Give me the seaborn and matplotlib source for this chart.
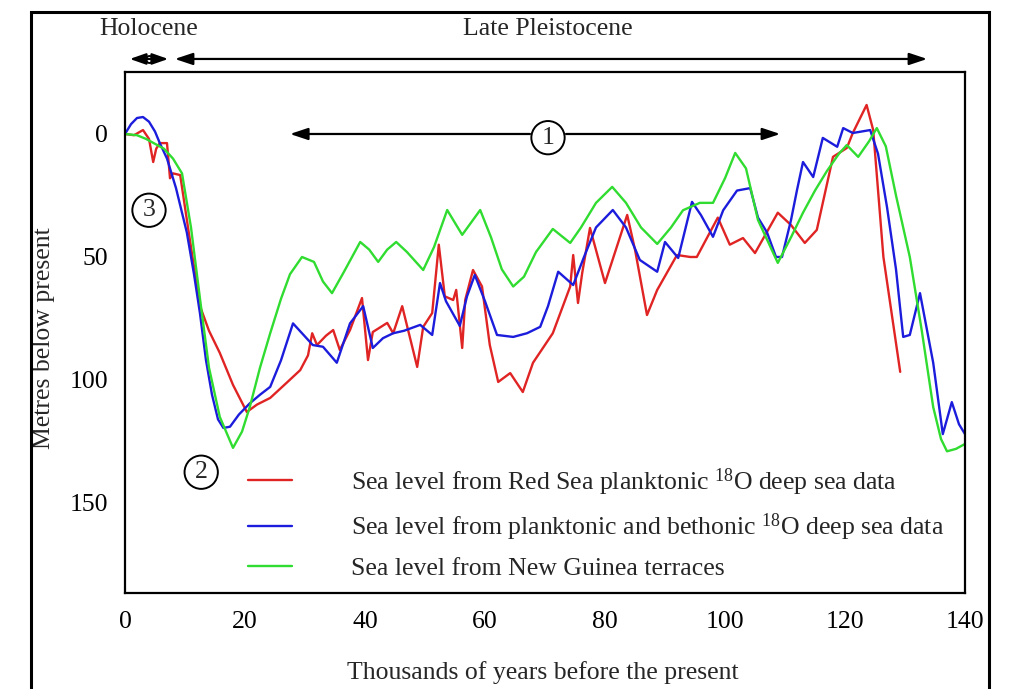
import numpy as np
import pandas as pd
import seaborn as sns
import matplotlib
matplotlib.use("Agg")
import matplotlib.pyplot as plt
from matplotlib.patches import Rectangle

# ---------------- data ----------------
red_x = [0, 1.5, 3, 4, 4.7, 5.2, 5.8, 7, 7.5, 8, 9.2, 10.5, 12.5, 14, 15.8, 18, 20.3, 22, 24.2, 27,
         29.2, 30.5, 31.2, 32, 33.5, 34.7, 35.8, 37.5, 39.5, 40.5, 41.3, 43.7, 44.7, 46.2, 48.7, 49.7,
         51.2, 52.3, 53.3, 54.7, 55.2, 56.2, 56.7, 58, 59.5, 60.8, 62.2, 64.2, 66.3, 68, 71.3, 74.2,
         74.7, 75.5, 76.2, 77.5, 80, 83.7, 85, 87, 88.7, 92, 94.2, 95.3, 98.8, 100.8, 103, 105, 108.8,
         111, 113.3, 115.3, 118, 120.3, 121.3, 123.6, 124.7, 126.4, 129.2]
red_y = [0, 0.5, -1.6, 2, 11.4, 6, 3.7, 3.7, 18, 16, 16.7, 38, 70, 80, 89, 102, 113, 110, 107.3, 101,
         96, 90, 81, 85.8, 82, 79.7, 87.8, 79.7, 66.7, 91.9, 80.5, 76.8, 81, 70, 94.7, 78.4,
         72.8, 45, 66, 67.5, 63.4, 87, 67.5, 55.3, 62, 85.8, 100.8, 97.2, 104.9, 93, 81, 62,
         49.2, 68.7, 56.5, 38.2, 60.6, 32.9, 47, 73.6, 63.4, 49.2, 50, 50, 34, 45, 42.3, 48.4, 32,
         37, 44.3, 39, 9.3, 5.7, -0.4, -11.8, -1.6, 50, 96.7]

blue_x = [0, 1, 2, 3, 4, 5, 5.8, 7, 8.5, 10.3, 11.5, 12.5, 13.5, 14.5, 15.5, 16.4, 17.5, 19, 20.8,
          22.5, 24.2, 26, 28, 29.5, 31.3, 33, 35.3, 37.5, 39.7, 41.3, 43, 44.7, 46.5, 49.2, 51.2,
          52.5, 53.5, 55.8, 57, 58.3, 60, 62, 64.7, 67, 69.2, 70.5, 72.2, 74.7, 76.5, 78.5, 81.3,
          83.5, 85.8, 88.7, 90, 92.2, 94.5, 96, 98, 99.7, 102, 104.2, 105.5, 107, 108.5, 109.5,
          111, 112, 113, 114.7, 116.3, 118.7, 119.7, 121.3, 124.2, 125.5, 127, 128.5, 129.7,
          130.8, 132.5, 134.7, 136.3, 137.8, 139, 140]
blue_y = [0, -4, -6.5, -6.9, -5, -1, 3.7, 10, 22, 40, 57, 73, 92, 106, 116, 119.5, 119, 114, 109.5,
          106, 102.8, 92, 77, 81, 85.8, 86.5, 93, 77, 70, 87, 83, 81, 80, 77.6, 81.7,
          60.6, 68, 78, 66, 57.3, 68, 81.7, 82.5, 81, 78.4, 70, 56, 61.4, 50, 38, 30.9,
          38, 51.2, 56, 43.9, 50.4, 27.6, 33, 41.8, 31, 23, 22, 34, 40, 50, 50,
          35, 22.8, 11.4, 17.5, 1.6, 5.2, -2.4, -0.4, -1.6, 8, 29.7, 55, 82.5,
          81.7, 64.7, 93, 122, 109, 118, 122]

green_x = [0, 2, 3.5, 5, 6.5, 8, 9.5, 11, 12.5, 14, 15.8, 18, 19.5, 20.8, 22.5, 24.2, 26, 27.5,
           29.5, 31.5, 33, 34.5, 36.5, 39.2, 40.7, 42.2, 43.7, 45.2, 47, 49.7, 51.5, 53.7, 56.2,
           59.2, 61, 62.8, 64.7, 66.5, 68.5, 71.3, 74.2, 76, 78.5, 81.2, 83.5, 86, 88.7, 91, 93,
           95.8, 98, 100, 101.7, 103.5, 105.5, 108.8, 111, 113, 115, 117, 119, 120.3, 122.2, 124,
           125.3, 126.8, 128.5, 130.8, 132.8, 134.7, 136, 137, 138.5, 140]
green_y = [0, 0.5, 2, 4, 6, 10, 16, 38, 67, 95, 115, 127.6, 121, 111, 95, 81, 67, 57,
           50, 52, 60, 64.7, 56, 43.9, 47, 52, 47, 43.9, 48, 55.3, 46, 30.9, 41,
           30.9, 42, 55, 62, 58, 48, 38.6, 44.3, 38, 28, 21.5, 28, 38, 44.7, 38, 31,
           28, 28, 18, 7.7, 14, 35, 52.4, 42, 32, 23, 15, 8, 4.5, 9.3, 3,
           -2.4, 5, 25, 50, 80, 111, 124, 129, 128, 126]

labels = [r"Sea level from Red Sea planktonic $^{18}$O deep sea data",
          r"Sea level from planktonic and bethonic $^{18}$O deep sea data",
          "Sea level from New Guinea terraces"]
colors = ["#e02424", "#1c1cdc", "#30dc30"]
x_ticks = [0, 20, 40, 60, 80, 100, 120, 140]
y_ticks = [0, 50, 100, 150]

# ---------------- style ----------------
sns.set_theme(style="white")
plt.rcParams["font.family"] = ["Liberation Serif", "DejaVu Serif"]
plt.rcParams["mathtext.fontset"] = "custom"
plt.rcParams["mathtext.rm"] = "Liberation Serif"
plt.rcParams["mathtext.default"] = "regular"

W, H = 1009, 689
fig = plt.figure(figsize=(W / 100, H / 100), dpi=100)
ax = fig.add_axes([125 / W, 1 - 593 / H, (965 - 125) / W, (593 - 72) / H])

series = [(red_x, red_y), (blue_x, blue_y), (green_x, green_y)]
for (xs, ys), lab, col in zip(series, labels, colors):
    df = pd.DataFrame({"x": xs, "y": ys})
    sns.lineplot(data=df, x="x", y="y", ax=ax, color=col, lw=1.7, label=lab,
                 estimator=None, sort=False, legend=False)
for ln in ax.lines:
    ln.set_solid_joinstyle("round")

ax.set_xlim(0, 140)
ax.set_ylim(186.6, -25.2)
ax.set_xticks(x_ticks)
ax.set_yticks(y_ticks)
FS = 18.5
ax.tick_params(axis="both", direction="out", length=7, width=1.5, labelsize=FS, pad=6,
               colors="black")
ax.tick_params(axis="y", pad=5)
for s in ax.spines.values():
    s.set_linewidth(1.6)
    s.set_color("black")

ax.set_xlabel("Thousands of years before the present", fontsize=FS)
ax.set_ylabel("Metres below present", fontsize=FS)
ax.xaxis.set_label_coords(0.497, -0.13)
ax.yaxis.set_label_coords(-0.083, 0.49)

# legend
ax.legend(loc="upper left", bbox_to_anchor=((248 - 125) / 840, (593 - 466) / 521),
          frameon=False, fontsize=FS, handlelength=1.7, handletextpad=2.3,
          labelspacing=0.55, borderpad=0, borderaxespad=0)

# circled numbers
circ = dict(boxstyle="circle,pad=0.22", fc="white", ec="black", lw=1.4)
ax.text(70.5, 1.5, "1", fontsize=FS, ha="center", va="center", bbox=circ, zorder=6)
ax.text(4.0, 31, "3", fontsize=FS, ha="center", va="center", bbox=circ, zorder=6)
ax.text(12.7, 137.5, "2", fontsize=FS, ha="center", va="center", bbox=circ, zorder=6)

arrow_kw = dict(arrowstyle="-|>,head_length=0.9,head_width=0.3", color="black", lw=1.6,
                shrinkA=0, shrinkB=0)
ax.annotate("", xy=(27.5, 0), xytext=(67.5, 0), arrowprops=arrow_kw, zorder=5)
ax.annotate("", xy=(109.2, 0), xytext=(73.5, 0), arrowprops=arrow_kw, zorder=5)

# period arrows above the plot
ax.annotate("", xy=(0.8, -30.5), xytext=(7.2, -30.5), annotation_clip=False,
            arrowprops=dict(arrowstyle="<|-|>,head_length=0.8,head_width=0.28", color="black",
                            lw=1.6, shrinkA=0, shrinkB=0))
ax.plot([4.0], [-30.5], marker="o", ms=5, mfc="white", mec="black", mew=1.4, clip_on=False)
ax.annotate("", xy=(8.3, -30.5), xytext=(133.7, -30.5), annotation_clip=False,
            arrowprops=dict(arrowstyle="<|-|>,head_length=0.9,head_width=0.3", color="black",
                            lw=1.6, shrinkA=0, shrinkB=0))
ax.text(4.0, -42.5, "Holocene", fontsize=FS, ha="center", va="center", clip_on=False)
ax.text(70.5, -42.5, "Late Pleistocene", fontsize=FS, ha="center", va="center", clip_on=False)

# outer frame
fig.patches.append(Rectangle((31 / W, -0.02), (989 - 31) / W, 1.02 - 12 / H,
                             transform=fig.transFigure, fill=False, ec="black", lw=2.2))

fig.savefig("out.png", dpi=100)
